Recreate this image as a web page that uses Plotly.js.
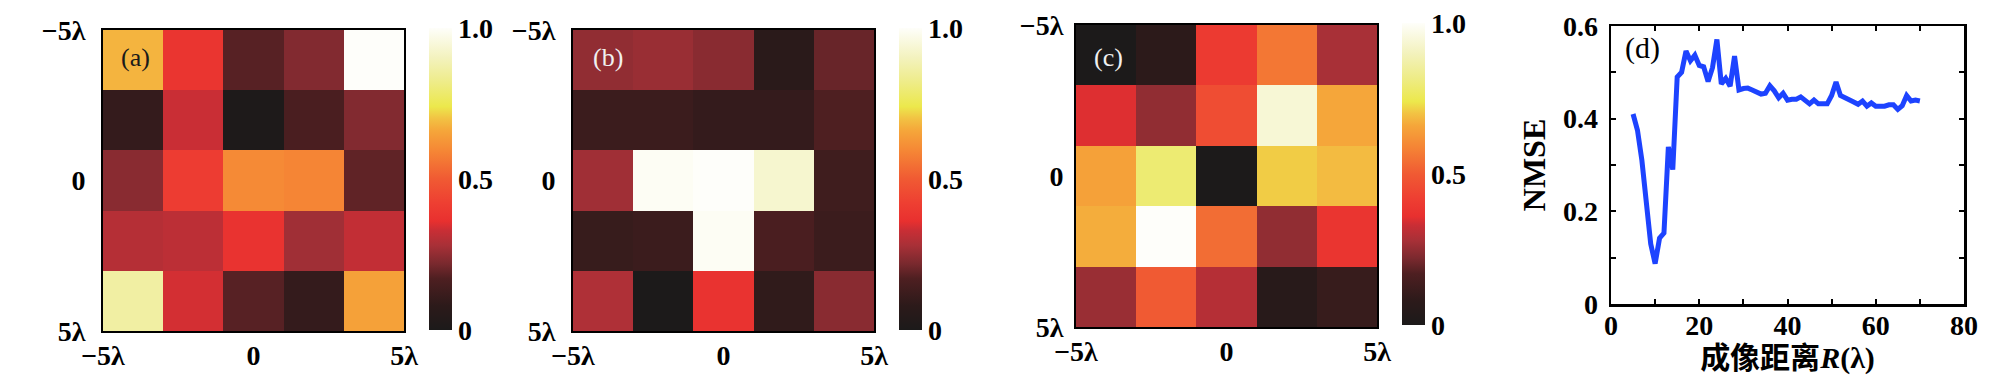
<!DOCTYPE html>
<html>
<head>
<meta charset="utf-8">
<script src="https://cdn.plot.ly/plotly-3.0.1.min.js"></script>
<style>html,body{margin:0;padding:0;background:#fff;}#chart{width:2008px;height:384px;}</style>
</head>
<body>
<div id="chart"></div>
<script>
// ---------- data ----------
const gridX = [-4, -2, 0, 2, 4];
const gridY = [-4, -2, 0, 2, 4];
const axisTickVals = [-5, 0, 5];
const axisTickText = ['\u22125\u03bb', '0', '5\u03bb'];
const cbTickVals = [0, 0.5, 1];
const cbTickText = ['0', '0.5', '1.0'];

const zA = [
  [0.68, 0.38, 0.18, 0.23, 1.00],
  [0.10, 0.33, 0.01, 0.16, 0.23],
  [0.24, 0.41, 0.60, 0.59, 0.19],
  [0.30, 0.31, 0.37, 0.27, 0.32],
  [0.86, 0.34, 0.18, 0.10, 0.65]
];
const zB = [
  [0.25, 0.26, 0.24, 0.07, 0.20],
  [0.12, 0.12, 0.10, 0.10, 0.17],
  [0.27, 0.99, 1.00, 0.93, 0.13],
  [0.11, 0.12, 0.99, 0.16, 0.12],
  [0.29, 0.00, 0.37, 0.09, 0.24]
];
const zC = [
  [0.00, 0.08, 0.40, 0.56, 0.28],
  [0.35, 0.25, 0.46, 0.94, 0.66],
  [0.65, 0.79, 0.00, 0.71, 0.69],
  [0.67, 1.00, 0.54, 0.25, 0.38],
  [0.26, 0.50, 0.30, 0.06, 0.11]
];

const distR = [5,6,7,8,9,10,11,12,13,14,15,16,17,18,19,20,21,22,23,24,25,26,27,28,29,30,31,32,33,34,35,36,37,38,39,40,41,42,43,44,45,46,47,48,49,50,51,52,53,54,55,56,57,58,59,60,61,62,63,64,65,66,67,68,69,70];
const nmse = [0.41,0.375,0.31,0.224,0.13,0.087,0.142,0.153,0.339,0.29,0.49,0.50,0.546,0.525,0.537,0.515,0.512,0.48,0.51,0.571,0.475,0.487,0.47,0.535,0.462,0.465,0.466,0.462,0.457,0.453,0.455,0.471,0.46,0.445,0.455,0.44,0.442,0.442,0.447,0.44,0.432,0.44,0.432,0.432,0.432,0.45,0.479,0.45,0.446,0.442,0.436,0.431,0.438,0.427,0.434,0.427,0.427,0.427,0.43,0.43,0.42,0.428,0.45,0.438,0.44,0.438];

// ---------- style ----------
const W = 2008, H = 384;
const SERIF = 'Liberation Serif, DejaVu Serif, serif';
const TICKFONT = {family: SERIF, size: 28, color: '#000', weight: 'bold'};
const colorscale = [
  [0.00, '#1c1a1a'], [0.08, '#2c1a1a'], [0.17, '#4e1f21'], [0.22, '#7a292e'],
  [0.28, '#a83037'], [0.33, '#c92e35'], [0.36, '#e8302f'], [0.42, '#ee3f32'],
  [0.50, '#f05a33'], [0.59, '#f58535'], [0.66, '#f5a63a'], [0.70, '#f2c243'],
  [0.74, '#ece84c'], [0.82, '#eeec88'], [0.90, '#f3f2bd'], [1.00, '#fefefa']
];
const px = v => v / W;
const py = v => 1 - v / H;

function cb(left, top, bottom) {
  return {
    x: px(left), xanchor: 'left', y: py(bottom), yanchor: 'bottom',
    len: bottom - top, lenmode: 'pixels', thickness: 23, thicknessmode: 'pixels',
    xpad: 0, ypad: 0, outlinewidth: 0, ticks: '',
    tickvals: cbTickVals, ticktext: cbTickText, tickfont: TICKFONT
  };
}
function hm(z, xa, ya, cbar) {
  return {type: 'heatmap', x: gridX, y: gridY, z: z, xaxis: xa, yaxis: ya,
    zmin: 0, zmax: 1, colorscale: colorscale, colorbar: cbar, hoverinfo: 'none'};
}
const traces = [
  hm(zA, 'x', 'y', cb(429, 28, 330)),
  hm(zB, 'x2', 'y2', cb(899, 28, 330)),
  hm(zC, 'x3', 'y3', cb(1402, 23, 325)),
  {type: 'scatter', mode: 'lines', x: distR, y: nmse, xaxis: 'x4', yaxis: 'y4',
   line: {color: '#1d43ff', width: 5}, hoverinfo: 'none'}
];

function hx(l, r, anchor) {
  return {domain: [px(l), px(r)], anchor: anchor, range: [-5, 5], tickvals: axisTickVals, ticktext: axisTickText,
    ticks: '', showgrid: false, zeroline: false, showline: true, mirror: true, linecolor: '#000', linewidth: 2,
    tickfont: TICKFONT, ticklabelstandoff: -2, fixedrange: true};
}
function hy(t, b, anchor, so) {
  return {domain: [py(b), py(t)], anchor: anchor, range: [5, -5], tickvals: axisTickVals, ticktext: axisTickText,
    ticks: '', showgrid: false, zeroline: false, showline: true, mirror: true, linecolor: '#000', linewidth: 2,
    tickfont: TICKFONT, ticklabelstandoff: so, fixedrange: true};
}

const layout = {
  width: W, height: H, margin: {l: 0, r: 0, t: 0, b: 0}, paper_bgcolor: '#fff', plot_bgcolor: '#fff',
  showlegend: false,
  xaxis: hx(103, 404, 'y'), yaxis: hy(30, 331, 'x', 10),
  xaxis2: hx(573, 874, 'y2'), yaxis2: hy(30, 331, 'x2', 10),
  xaxis3: hx(1076, 1377, 'y3'), yaxis3: hy(25, 327, 'x3', 5),
  xaxis4: {domain: [px(1611), px(1964)], anchor: 'y4', range: [0, 80], dtick: 20, tick0: 0,
    ticks: 'inside', ticklen: 5, tickwidth: 2, tickcolor: '#000',
    minor: {dtick: 10, ticks: 'inside', ticklen: 5, tickwidth: 2, tickcolor: '#000'},
    showline: true, mirror: 'ticks', linecolor: '#000', linewidth: 2.5, showgrid: false, zeroline: false,
    tickfont: TICKFONT, ticklabelstandoff: -5,
    title: {text: '成像距离<i>R</i>(λ)', font: {family: 'Liberation Serif, Noto Sans CJK SC, serif', size: 30, color: '#000', weight: 'bold'}, standoff: 4}},
  yaxis4: {domain: [py(304), py(26)], anchor: 'x4', range: [0, 0.6], dtick: 0.2, tick0: 0,
    ticks: 'inside', ticklen: 5, tickwidth: 2, tickcolor: '#000',
    minor: {dtick: 0.1, ticks: 'inside', ticklen: 5, tickwidth: 2, tickcolor: '#000'},
    showline: true, mirror: 'ticks', linecolor: '#000', linewidth: 2.5, showgrid: false, zeroline: false,
    tickfont: TICKFONT, ticklabelstandoff: 5,
    title: {text: 'NMSE', font: {family: SERIF, size: 32, color: '#000', weight: 'bold'}, standoff: 8}},
  annotations: [
    {text: '(a)', x: px(135), y: py(58), xref: 'paper', yref: 'paper', showarrow: false, xanchor: 'center', yanchor: 'middle', font: {family: SERIF, size: 26, color: '#1a1a1a'}},
    {text: '(b)', x: px(608), y: py(58), xref: 'paper', yref: 'paper', showarrow: false, xanchor: 'center', yanchor: 'middle', font: {family: SERIF, size: 26, color: '#f0f0f0'}},
    {text: '(c)', x: px(1108), y: py(58), xref: 'paper', yref: 'paper', showarrow: false, xanchor: 'center', yanchor: 'middle', font: {family: SERIF, size: 26, color: '#f0f0f0'}},
    {text: '(d)', x: px(1642), y: py(48), xref: 'paper', yref: 'paper', showarrow: false, xanchor: 'center', yanchor: 'middle', font: {family: SERIF, size: 30, color: '#000'}}
  ]
};

Plotly.newPlot('chart', traces, layout, {staticPlot: true, displayModeBar: false});
</script>
</body>
</html>
